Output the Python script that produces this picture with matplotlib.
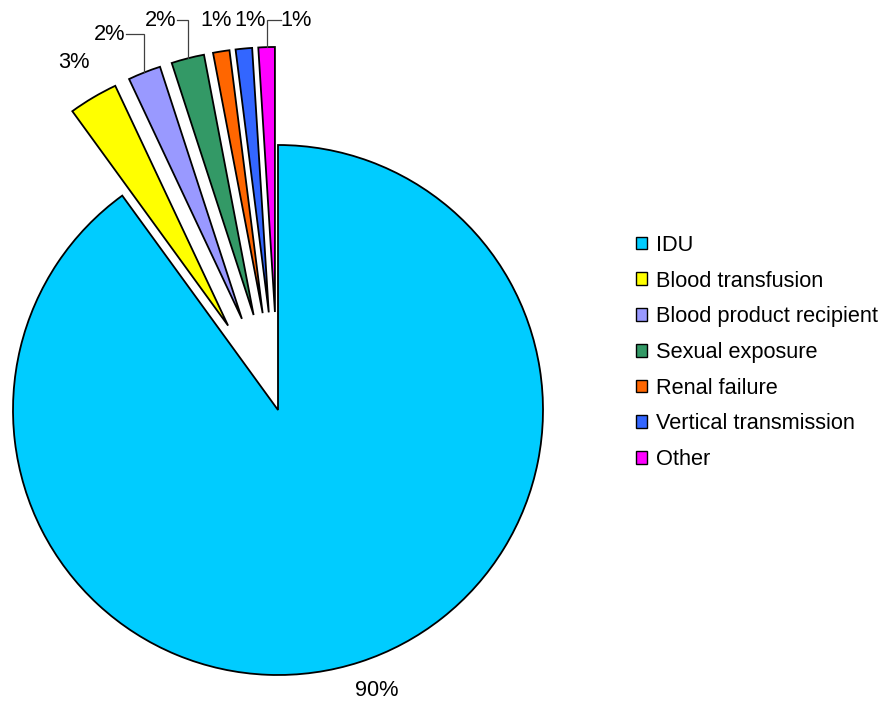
import numpy as np
import matplotlib
matplotlib.use("Agg")
import matplotlib.pyplot as plt
from matplotlib.patches import Patch

# Exposure categories and their shares (%)
categories = ["IDU", "Blood transfusion", "Blood product recipient",
              "Sexual exposure", "Renal failure", "Vertical transmission", "Other"]
shares = [90, 3, 2, 2, 1, 1, 1]
colors = ["#00CCFF", "#FFFF00", "#9999FF", "#339966", "#FF6600", "#3366FF", "#FF00FF"]

plt.rcParams["font.family"] = ["Liberation Sans", "DejaVu Sans"]
FS = 15.7

W, H = 885, 701
fig = plt.figure(figsize=(W / 100, H / 100), dpi=100)
ax = fig.add_axes([0, 0, 1, 1])

cx, cy, R = 278, H - 410, 265
# explode offsets are in data units, so scale by the radius
explode = [0] + [0.37 * R] * (len(shares) - 1)

wedges, _ = ax.pie(shares, colors=colors, startangle=90, counterclock=False,
                   explode=explode, center=(cx, cy), radius=R,
                   wedgeprops=dict(edgecolor="black", linewidth=1.3))

ax.set_xlim(0, W)
ax.set_ylim(0, H)
ax.set_aspect("equal")
ax.axis("off")


def arc_mid(w):
    a = np.deg2rad((w.theta1 + w.theta2) / 2)
    x0, y0 = w.center
    return x0 + w.r * np.cos(a), y0 + w.r * np.sin(a)


labels = [f"{v:d}%" for v in shares]

# label positions (text centres) and leader-line direction
label_pos = [(377, 10), (74, 638), (110, 667), (161, 681), (216, 680), (250, 681), (296, 681)]
leaders = {2: "right", 3: "right", 6: "left"}

for i, (w, lab) in enumerate(zip(wedges, labels)):
    tx, ty = label_pos[i]
    ax.text(tx, ty, lab, fontsize=FS, ha="center", va="center", color="black")
    if i in leaders:
        mx, my = arc_mid(w)
        sx = tx + 16 if leaders[i] == "right" else tx - 15
        ax.plot([sx, mx, mx], [ty, ty, my], color="#404040", lw=0.9,
                solid_joinstyle="miter")

handles = [Patch(facecolor=c, edgecolor="black", linewidth=1.0) for c in colors]
ax.legend(handles, categories, loc="center left",
          bbox_to_anchor=(636, H - 352.5), bbox_transform=ax.transData,
          frameon=False, fontsize=FS, handlelength=0.52, handleheight=0.52,
          handletextpad=0.38, labelspacing=0.675, borderpad=0, borderaxespad=0)

fig.savefig("out.png", dpi=100)
